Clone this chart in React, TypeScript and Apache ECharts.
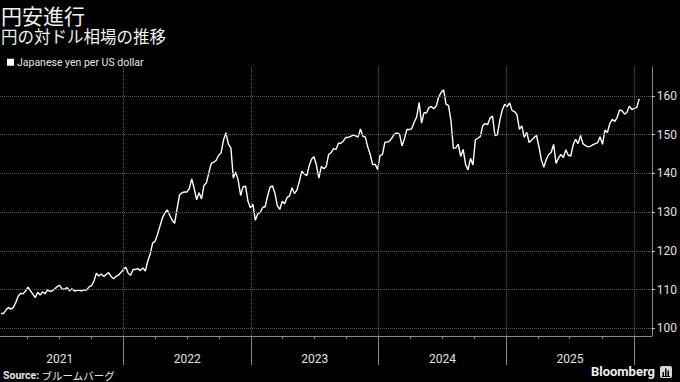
import React, { useEffect, useRef } from "react";
import * as echarts from "echarts";

const seriesName = "Japanese yen per US dollar";

// Weekly (Friday) closes, USD/JPY
const y2021 = [103.8, 103.8, 104.7, 105.4, 104.9, 105.4, 106.6, 108.3, 109.0, 108.9, 109.6, 110.6, 109.7, 108.8, 107.9, 109.3, 108.6, 109.4, 108.9, 109.9, 109.5, 109.7, 110.2, 110.8, 111.1, 110.1, 110.1, 110.5, 109.7, 110.2, 109.6, 109.8, 109.8, 109.7, 109.9, 109.9, 110.7, 111.0, 112.2, 114.2, 113.5, 114.0, 113.4, 113.9, 114.4, 113.4, 112.8, 113.4, 113.7, 114.4, 115.1];
const y2022 = [115.8, 114.2, 113.7, 115.2, 115.2, 115.4, 114.9, 115.6, 114.8, 117.3, 119.2, 122.0, 122.5, 124.3, 126.4, 128.5, 129.8, 130.6, 129.2, 127.9, 127.1, 130.9, 134.4, 135.0, 135.2, 135.2, 136.1, 138.6, 136.1, 133.2, 135.0, 133.4, 136.9, 137.6, 140.2, 142.6, 142.9, 143.4, 144.7, 145.3, 148.7, 150.5, 147.5, 146.6, 138.8, 140.4, 138.2, 134.3, 136.6, 136.7, 132.8, 131.1];
const y2023 = [132.1, 127.9, 129.6, 129.9, 131.2, 131.4, 134.1, 136.4, 136.8, 134.9, 131.7, 130.7, 132.8, 132.2, 133.8, 134.2, 136.3, 134.8, 135.7, 137.9, 140.6, 139.9, 139.4, 141.9, 143.7, 144.3, 142.1, 138.8, 141.8, 141.2, 141.8, 144.9, 145.4, 146.4, 146.2, 147.8, 147.8, 148.4, 149.3, 149.3, 149.6, 149.9, 149.7, 149.4, 151.5, 149.6, 149.4, 146.8, 144.9, 142.2, 142.4, 141.0];
const y2024 = [144.6, 144.9, 148.1, 148.1, 148.4, 149.3, 150.2, 150.5, 150.1, 147.1, 149.0, 151.4, 151.3, 151.6, 153.3, 154.6, 158.3, 153.0, 155.7, 155.6, 157.0, 157.3, 156.7, 157.4, 159.8, 160.9, 161.6, 157.9, 157.5, 153.8, 146.5, 146.6, 147.6, 144.4, 146.2, 142.3, 140.9, 143.9, 142.2, 148.7, 149.1, 149.5, 152.3, 152.9, 152.6, 154.3, 154.8, 149.8, 150.0, 153.7, 156.4, 157.9];
const y2025 = [157.3, 158.2, 156.3, 156.0, 155.2, 151.4, 152.3, 149.3, 150.6, 148.0, 148.6, 149.3, 149.8, 146.9, 143.5, 141.6, 143.6, 144.9, 145.4, 147.5, 142.6, 144.0, 144.9, 144.1, 146.1, 144.7, 144.5, 147.4, 148.8, 147.7, 149.8, 147.7, 147.2, 146.9, 147.0, 147.4, 147.7, 147.9, 149.5, 147.5, 151.2, 150.6, 152.9, 154.0, 153.4, 154.5, 156.4, 156.2, 155.3, 155.8, 157.4, 156.5];
const y2026 = [156.9, 157.0, 159.3];

const yTicks = [100, 110, 120, 130, 140, 150, 160];
const years = [2021, 2022, 2023, 2024, 2025];
const separatorYears = [2022, 2023, 2024, 2025, 2026];

const DAY = 86400000;
const firstFriday = Date.UTC(2021, 0, 15);
const allValues = [...y2021, ...y2022, ...y2023, ...y2024, ...y2025, ...y2026];
const data = allValues.map((v, i) => [firstFriday + i * 7 * DAY, v]);

const xMin = Date.UTC(2021, 0, 12);
const xMax = Date.UTC(2026, 1, 21);
const yearStarts = separatorYears.map((y) => Date.UTC(y, 0, 1));
const midYears = years.map((y) => Date.UTC(y, 6, 2));
const quarters: number[] = [];
years.forEach((y) => {
  [3, 6, 9].forEach((m) => quarters.push(Date.UTC(y, m, 1)));
});

export default function App() {
  const ref = useRef<HTMLDivElement>(null);
  useEffect(() => {
    if (!ref.current) return;
    const chart = echarts.init(ref.current, null, { renderer: "svg" });
    const grey = "#8a8a8a";
    chart.setOption({
      animation: false,
      backgroundColor: "#000",
      textStyle: { fontFamily: "Roboto, 'Noto Sans CJK JP', sans-serif" },
      grid: { left: 0, right: 28, top: 67, bottom: 46, containLabel: false },
      legend: {
        left: 2,
        top: 52,
        icon: "rect",
        itemWidth: 7,
        itemHeight: 7,
        itemGap: 4,
        selectedMode: false,
        data: [seriesName],
        textStyle: { color: "#e6e6e6", fontSize: 10.5, padding: [0, 0, 0, -2] },
      },
      xAxis: [
        {
          type: "value",
          min: xMin,
          max: xMax,
          axisLine: { show: true, onZero: false, lineStyle: { color: grey } },
          axisTick: { show: true, customValues: yearStarts, length: 29, lineStyle: { color: grey } },
          axisLabel: {
            show: true,
            customValues: midYears,
            formatter: (v: number) => String(new Date(v).getUTCFullYear()),
            color: "#e0e0e0",
            fontSize: 12,
            margin: 17,
          },
          splitLine: { show: false },
        },
        {
          type: "value",
          min: xMin,
          max: xMax,
          position: "bottom",
          axisLine: { show: false, onZero: false },
          axisTick: { show: true, customValues: quarters, length: 3, lineStyle: { color: grey } },
          axisLabel: { show: false },
          splitLine: { show: false },
        },
      ],
      yAxis: {
        type: "value",
        position: "right",
        min: 98,
        max: 167.5,
        axisLine: { show: true, onZero: false, lineStyle: { color: grey } },
        axisTick: { show: true, customValues: yTicks, length: 3, lineStyle: { color: "#cccccc" } },
        axisLabel: { show: true, customValues: yTicks, color: "#e0e0e0", fontSize: 12, margin: 5 },
        splitLine: { show: false },
      },
      series: [
        {
          type: "line",
          name: seriesName,
          data,
          xAxisIndex: 0,
          symbol: "none",
          showSymbol: false,
          lineStyle: { color: "#ffffff", width: 1.4 },
          itemStyle: { color: "#ffffff" },
          markLine: {
            silent: true,
            symbol: ["none", "none"],
            label: { show: false },
            lineStyle: { type: "dotted", color: "#5a5a5a", width: 1 },
            data: [
              ...yTicks.map((v) => ({ yAxis: v })),
              ...yearStarts.map((t) => ({ xAxis: t })),
            ],
          },
          z: 3,
        },
      ],
      graphic: [
        {
          type: "text",
          x: 1,
          y: 4,
          style: {
            text: "{t|円安進行}\n{s|円の対ドル相場の推移}",
            verticalAlign: "top",
            fill: "#f0f0f0",
            fontFamily: "'Noto Sans CJK JP'",
            rich: {
              t: { fontSize: 21, lineHeight: 22, fill: "#f0f0f0", fontFamily: "'Noto Sans CJK JP'" },
              s: { fontSize: 16.5, lineHeight: 19, fill: "#f0f0f0", fontFamily: "'Noto Sans CJK JP'" },
            },
          },
        },
        {
          type: "text",
          x: 3,
          y: 375,
          style: {
            text: "{b|Source:} ブルームバーグ",
            fill: "#e6e6e6",
            fontSize: 10.5,
            verticalAlign: "middle",
            rich: {
              b: { fontWeight: "bold", fontSize: 10.5, fill: "#e6e6e6", fontFamily: "Roboto" },
            },
            fontFamily: "'Noto Sans CJK JP'",
          },
        },
        {
          type: "text",
          right: 25,
          top: 365,
          style: { text: "Bloomberg", fill: "#eeeeee", fontSize: 13, fontWeight: "bold", fontFamily: "Roboto" },
        },
        {
          type: "group",
          left: 660,
          top: 366,
          children: [
            { type: "rect", shape: { x: 0, y: 0, width: 12, height: 12, r: 2 }, style: { fill: "#d8d8d8" } },
            { type: "rect", shape: { x: 2.5, y: 6, width: 1.5, height: 4 }, style: { fill: "#000" } },
            { type: "rect", shape: { x: 5, y: 2.5, width: 1.5, height: 7.5 }, style: { fill: "#000" } },
            { type: "rect", shape: { x: 7.5, y: 4.5, width: 1.5, height: 5.5 }, style: { fill: "#000" } },
            { type: "rect", shape: { x: 2, y: 10, width: 8, height: 1 }, style: { fill: "#000" } },
          ],
        },
      ],
    });
    return () => chart.dispose();
  }, []);
  return (
    <div
      ref={ref}
      style={{ position: "absolute", left: 0, top: 0, width: 680, height: 382, background: "#000" }}
    />
  );
}
